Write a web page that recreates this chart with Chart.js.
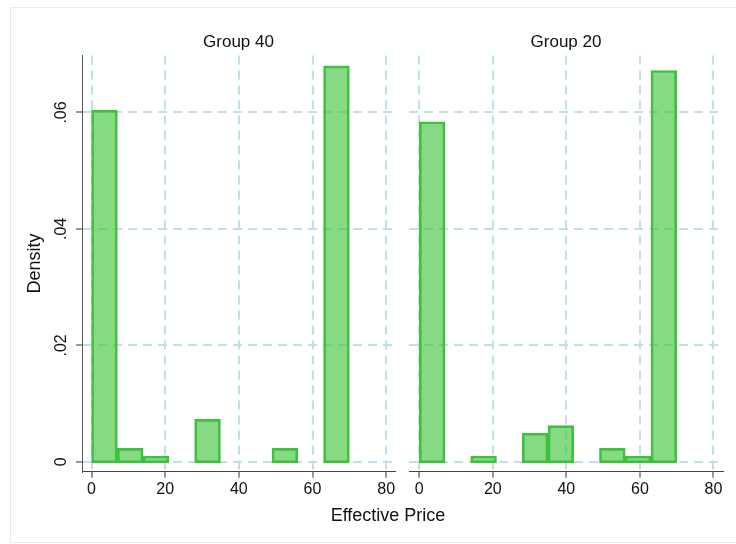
<!DOCTYPE html>
<html>
<head>
<meta charset="utf-8">
<script src="https://cdn.jsdelivr.net/npm/chart.js@4.4.1/dist/chart.umd.min.js"></script>
<style>
  body { margin: 0; background: #fff; }
  #wrap { position: relative; width: 736px; height: 544px; overflow: hidden; font-family: "Liberation Sans", Arial, sans-serif; }
  #frame { position: absolute; left: 10px; top: 7px; width: 740px; height: 536px; border: 1px solid #e4eded; box-sizing: border-box; }
  #left { position: absolute; left: 0; top: 0; }
  #right { position: absolute; left: 400px; top: 0; }
  #xtitle { position: absolute; left: 288px; top: 505px; width: 200px; text-align: center; font-size: 18px; line-height: 20px; color: #111; }
</style>
</head>
<body>
<div id="wrap">
  <div id="frame"></div>
  <canvas id="left" width="400" height="544"></canvas>
  <canvas id="right" width="336" height="544"></canvas>
  <div id="xtitle">Effective Price</div>
</div>
<script>
const FONT = '"Liberation Sans", Arial, sans-serif';

// histogram bins (width 7), centers on the price axis
const binCenters = [3.5, 10.5, 17.5, 24.5, 31.5, 38.5, 45.5, 52.5, 59.5, 66.5];
const group40Density = [0.0604, 0.0023, 0.0010, 0, 0.0073, 0, 0, 0.0023, 0, 0.0680];
const group20Density = [0.0584, 0, 0.0010, 0, 0.0049, 0.0062, 0, 0.0023, 0.0010, 0.0672];
const xTicks = [0, 20, 40, 60, 80];
const yTicks = [0, 0.02, 0.04, 0.06];
const yTickLabels = ["0", ".02", ".04", ".06"];
const panelTitles = ["Group 40", "Group 20"];

const gridBlue = "#bfdfea";

function makePanel(id, title, density, withAxis) {
    const ctx = document.getElementById(id).getContext("2d");
    // empty bins draw nothing
    const points = binCenters.map((c, i) => ({ x: c, y: density[i] })).filter(p => p.y > 0);
    return new Chart(ctx, {
        type: "bar",
        data: {
            datasets: [{
                data: points,
                base: -0.00017, // outline sits half a stroke below zero, like the original
                backgroundColor: "rgba(60,195,55,0.62)",
                borderColor: "#3ec23e",
                borderWidth: 2,
                borderSkipped: false,
                barPercentage: 1,
                categoryPercentage: 1
            }]
        },
        options: {
            responsive: false,
            animation: false,
            layout: { padding: { left: 0, right: withAxis ? 5 : 13, top: 0, bottom: 0 } },
            plugins: {
                legend: { display: false },
                tooltip: { enabled: false },
                title: {
                    display: true,
                    text: title,
                    fullSize: false,
                    color: "#111",
                    font: { family: FONT, size: 17, weight: "normal" },
                    padding: { top: 32, bottom: 3 }
                }
            },
            scales: {
                x: {
                    type: "linear",
                    offset: false,
                    min: withAxis ? -2.6 : -2.8,
                    max: withAxis ? 82.4 : 82.6,
                    afterBuildTicks: s => { s.ticks = xTicks.map(v => ({ value: v })); },
                    afterFit: s => { s.height = 72.3; },
                    grid: { offset: false, color: gridBlue, lineWidth: 2, tickColor: "#333", tickLength: 6, tickWidth: 1 },
                    border: { display: true, color: "#444", width: 1, dash: [9, 6] },
                    ticks: { color: "#111", font: { family: FONT, size: 16 }, padding: 2, maxRotation: 0, autoSkip: false }
                },
                y: {
                    min: -0.0017,
                    max: 0.0698,
                    afterBuildTicks: s => { s.ticks = yTicks.map(v => ({ value: v })); },
                    afterFit: s => { s.width = withAxis ? 82 : 9; },
                    grid: { color: gridBlue, lineWidth: 2, drawTicks: withAxis, tickColor: "#333", tickLength: 6, tickWidth: 1 },
                    border: { display: withAxis, color: "#555", width: 1, dash: [9, 6] },
                    ticks: {
                        display: withAxis,
                        color: "#111",
                        font: { family: FONT, size: 16 },
                        padding: 3,
                        minRotation: 90,
                        maxRotation: 90,
                        crossAlign: "center",
                        callback: v => yTickLabels[yTicks.indexOf(v)]
                    },
                    title: {
                        display: withAxis,
                        text: "Density",
                        color: "#111",
                        font: { family: FONT, size: 18 },
                        padding: { top: 24, bottom: 0 }
                    }
                }
            }
        }
    });
}

makePanel("left", panelTitles[0], group40Density, true);
makePanel("right", panelTitles[1], group20Density, false);
</script>
</body>
</html>
